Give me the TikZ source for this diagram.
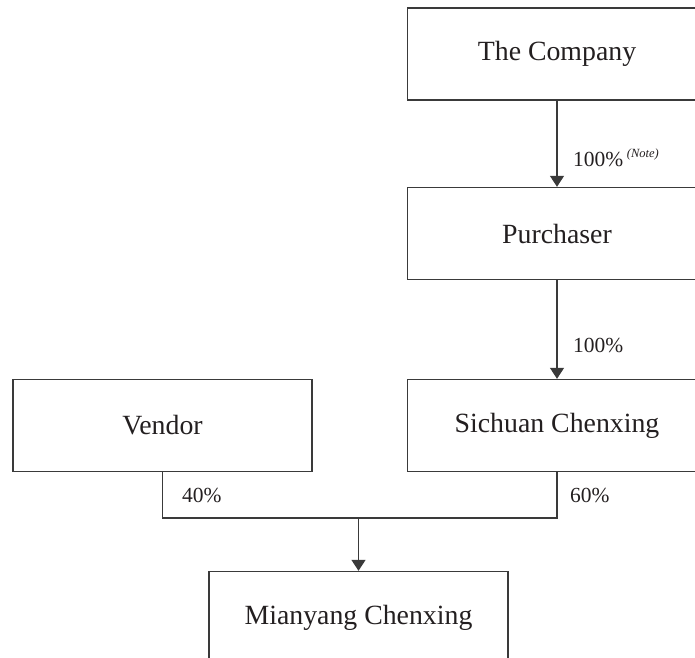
\documentclass[tikz,border=0pt]{standalone}
\usepackage{fontspec}
\setmainfont{Liberation Serif}
\usetikzlibrary{arrows.meta}
\definecolor{ink}{HTML}{231F20}
\definecolor{lineink}{HTML}{3A3A3A}
\begin{document}
\begin{tikzpicture}[x=1pt,y=-1pt,
  entity/.style={draw=lineink, line width=1.4pt, rectangle, minimum width=299pt, minimum height=92pt, inner sep=0pt, text=ink, font=\fontsize{27.8}{31}\selectfont},
  link/.style={draw=lineink, line width=1.4pt},
  arrowlink/.style={link, -{Triangle[width=14pt,length=11pt]}},
  pct/.style={anchor=west, inner sep=0pt, text=ink, font=\fontsize{21.5}{24}\selectfont}]
\useasboundingbox (0,0) rectangle (695,657);
\clip (0,0) rectangle (695,657);
\node[entity] (company) at (557,54) {The Company};
\node[entity] (purchaser) at (557,233.5) {Purchaser};
\node[entity] (sichuan) at (557,425.5) {Sichuan Chenxing};
\node[entity] (vendor) at (162.5,425.5) {Vendor};
\node[entity] (mianyang) at (358.5,617.5) {Mianyang Chenxing};
\coordinate (join) at (0,518);
\draw[arrowlink] (company.south) -- (purchaser.north);
\draw[arrowlink] (purchaser.south) -- (sichuan.north);
\draw[link] (vendor.south) -- (vendor.south |- join) -- (sichuan.south |- join) -- (sichuan.south);
\draw[arrowlink] (mianyang.north |- join) -- (mianyang.north);
\node[pct] (p1) at (573,158) {100\%\,\raisebox{9pt}{\fontsize{12.5}{14}\selectfont\itshape(Note)}};
\node[pct] (p2) at (573,345) {100\%};
\node[pct] (p3) at (182,495) {40\%};
\node[pct] (p4) at (570,495) {60\%};
\end{tikzpicture}
\end{document}
